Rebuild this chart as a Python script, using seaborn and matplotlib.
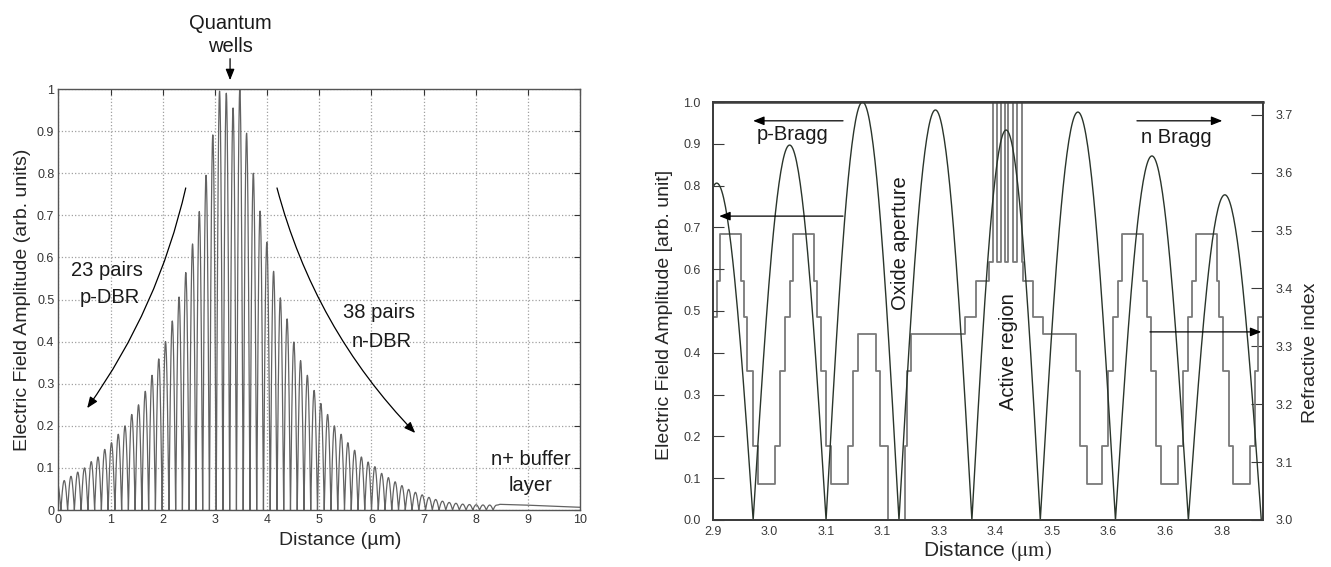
import numpy as np
import pandas as pd
import matplotlib
matplotlib.use("Agg")
import matplotlib.pyplot as plt
import seaborn as sns
from matplotlib.ticker import FixedLocator, FixedFormatter, MultipleLocator, FormatStrFormatter

# ---------------- Left panel: field amplitude through the whole stack ----------------
lobe_pitch = 0.1295        # µm per DBR pair (lambda / 2n)
first_lobe_x = -0.0195     # centre of the first (partial) lobe
p_dbr_peaks = [0.062, 0.07, 0.08, 0.09, 0.10, 0.115, 0.126, 0.144, 0.16, 0.18,
               0.20, 0.227, 0.25, 0.282, 0.32, 0.359, 0.40, 0.449, 0.506, 0.564,
               0.632, 0.709, 0.795, 0.891]
cavity_peaks = [0.995, 0.99, 0.955, 1.0]
n_dbr_peaks = [0.895, 0.80, 0.71, 0.636, 0.567, 0.504, 0.454, 0.399, 0.355, 0.32,
               0.284, 0.253, 0.227, 0.20, 0.18, 0.16, 0.142, 0.126, 0.114, 0.103,
               0.087, 0.077, 0.067, 0.058, 0.049, 0.042, 0.036, 0.030, 0.025, 0.021,
               0.018, 0.016, 0.014, 0.013, 0.0125, 0.012, 0.0118, 0.0115]
buffer_x = [8.463, 9.0, 9.5, 10.0]
buffer_y = [0.0135, 0.0115, 0.009, 0.0065]

# ---------------- Right panel: zoom around the cavity ----------------
arch_nodes = [2.842, 2.971, 3.100, 3.229, 3.358, 3.479, 3.612, 3.741, 3.870]
arch_peaks = [0.806, 0.897, 1.0, 0.981, 0.933, 0.976, 0.871, 0.778]

# refractive-index profile: layer start positions (µm) and index of each layer
index_edges = [2.900, 2.907, 2.912, 2.949, 2.954, 2.961, 2.970, 2.979, 3.009, 3.018,
               3.027, 3.036, 3.042, 3.079, 3.084, 3.091, 3.100, 3.109, 3.138, 3.147,
               3.156, 3.189, 3.195, 3.209, 3.239, 3.244, 3.251, 3.345, 3.366, 3.388,
               3.395, 3.402, 3.409, 3.416, 3.421, 3.430, 3.437, 3.446, 3.448, 3.466,
               3.483, 3.543, 3.549, 3.561, 3.589, 3.598, 3.607, 3.616, 3.624, 3.660,
               3.667, 3.674, 3.683, 3.692, 3.722, 3.731, 3.740, 3.747, 3.754, 3.791,
               3.796, 3.803, 3.812, 3.820, 3.850, 3.859, 3.865, 3.873]
index_levels = [3.351, 3.413, 3.494, 3.413, 3.351, 3.257, 3.127, 3.062, 3.127, 3.257,
                3.351, 3.413, 3.494, 3.413, 3.351, 3.257, 3.127, 3.062, 3.127, 3.257,
                3.321, 3.257, 3.127, 1.600, 3.127, 3.257, 3.321, 3.351, 3.413, 3.446,
                3.800, 3.446, 3.800, 3.446, 3.800, 3.446, 3.800, 3.446, 3.413, 3.351,
                3.321, 3.257, 3.127, 3.062, 3.127, 3.257, 3.351, 3.413, 3.494, 3.413,
                3.351, 3.257, 3.127, 3.062, 3.127, 3.257, 3.351, 3.413, 3.494, 3.413,
                3.351, 3.257, 3.127, 3.062, 3.127, 3.257, 3.351, 3.351]

dist_ticks = [2.9, 3.0, 3.1, 3.2, 3.3, 3.4, 3.5, 3.6, 3.7, 3.8]
dist_tick_labels = ["2.9", "3.0", "3.1", "3.1", "3.3", "3.4", "3.5", "3.6", "3.6", "3.8"]


def lobe_trace(peaks, centres, pitch, end_level):
    """Half-wave standing-wave lobes (|sin| shape) with nodes between peaks."""
    xs, ys = [], []
    for i, (p, c) in enumerate(zip(peaks, centres)):
        t = np.linspace(0.0, 1.0, 31)
        x = c - pitch / 2 + t * pitch
        y = p * np.abs(np.sin(np.pi * t))
        if i == len(peaks) - 1:
            right = t > 0.5
            y[right] = end_level + (p - end_level) * np.sin(np.pi * t[right])
        xs.append(x)
        ys.append(y)
    return np.concatenate(xs), np.concatenate(ys)


all_peaks = p_dbr_peaks + cavity_peaks + n_dbr_peaks
centres = [first_lobe_x + k * lobe_pitch for k in range(len(all_peaks))]
lx, ly = lobe_trace(all_peaks, centres, lobe_pitch, buffer_y[0])
left_df = pd.DataFrame({"x": np.concatenate([lx, buffer_x]),
                        "E": np.concatenate([ly, buffer_y])})

ax_parts, ay_parts = [], []
for a, b, p in zip(arch_nodes[:-1], arch_nodes[1:], arch_peaks):
    t = np.linspace(0.0, 1.0, 80)
    ax_parts.append(a + t * (b - a))
    ay_parts.append(p * np.sin(np.pi * t))
arch_df = pd.DataFrame({"x": np.concatenate(ax_parts), "E": np.concatenate(ay_parts)})
index_df = pd.DataFrame({"x": index_edges, "n": index_levels})

# ---------------- Figure ----------------
sns.set_style("white")
plt.rcParams["font.family"] = ["Liberation Sans", "DejaVu Sans"]

fig = plt.figure(figsize=(13.31, 5.67), dpi=100)
ax1 = fig.add_axes([0.04395, 0.1005, 0.3918, 0.7425])
ax2 = fig.add_axes([0.5357, 0.0829, 0.4132, 0.7372])
ax3 = ax2.twinx()

# ----- left panel -----
sns.lineplot(data=left_df, x="x", y="E", ax=ax1, color="#626262", lw=0.9,
             estimator=None, sort=False)
ax1.set_xlim(0, 10)
ax1.set_ylim(0, 1)
ax1.xaxis.set_major_locator(MultipleLocator(1))
ax1.yaxis.set_major_locator(MultipleLocator(0.1))
ax1.yaxis.set_major_formatter(FormatStrFormatter("%g"))
ax1.grid(True, linestyle=":", color="#a0a0a0", lw=0.9)
ax1.tick_params(direction="in", length=4, top=True, right=True, labelsize=9,
                colors="#333333", pad=3)
for s in ax1.spines.values():
    s.set_color("#555555")
    s.set_linewidth(1.0)
ax1.set_xlabel("Distance (µm)", fontsize=14)
ax1.set_ylabel("Electric Field Amplitude (arb. units)", fontsize=14)
ax1.xaxis.set_label_coords(0.54, -0.052)
ax1.yaxis.set_label_coords(-0.053, 0.5)

txt = dict(fontsize=14.5, color="#1a1a1a", ha="center", va="center")
ax1.text(3.29, 1.128, "Quantum\nwells", linespacing=1.3, clip_on=False, **txt)
arrow_kw = dict(arrowstyle="-|>,head_length=0.55,head_width=0.22", color="black",
                lw=0.9, mutation_scale=12, shrinkA=0, shrinkB=0)
ax1.annotate("", xy=(3.29, 1.021), xytext=(3.29, 1.072), arrowprops=arrow_kw,
             annotation_clip=False)
ax1.annotate("", xy=(0.55, 0.242), xytext=(2.44, 0.765),
             arrowprops=dict(connectionstyle="arc3,rad=-0.1", **arrow_kw))
ax1.annotate("", xy=(6.84, 0.183), xytext=(4.19, 0.765),
             arrowprops=dict(connectionstyle="arc3,rad=0.13", **arrow_kw))
ax1.text(0.93, 0.568, "23 pairs", **txt)
ax1.text(0.98, 0.505, "p-DBR", **txt)
ax1.text(6.15, 0.468, "38 pairs", **txt)
ax1.text(6.2, 0.40, "n-DBR", **txt)
ax1.text(9.06, 0.119, "n+ buffer", **txt)
ax1.text(9.06, 0.058, "layer", **txt)

# ----- right panel -----
sns.lineplot(data=index_df, x="x", y="n", ax=ax3, color="#7a7a7a", lw=1.3,
             estimator=None, sort=False, drawstyle="steps-post")
sns.lineplot(data=arch_df, x="x", y="E", ax=ax2, color="#2a352b", lw=1.0,
             estimator=None, sort=False)
ax2.set_zorder(ax3.get_zorder() + 1)
ax2.patch.set_visible(False)

ax2.set_xlim(2.9, 3.873)
ax2.set_ylim(0, 1.0)
ax3.set_ylim(3.0, 3.722)
ax2.xaxis.set_major_locator(FixedLocator(dist_ticks))
ax2.xaxis.set_major_formatter(FixedFormatter(dist_tick_labels))
ax2.yaxis.set_major_locator(MultipleLocator(0.1))
ax2.yaxis.set_major_formatter(FormatStrFormatter("%.1f"))
ax3.yaxis.set_major_locator(MultipleLocator(0.1))
ax3.yaxis.set_major_formatter(FormatStrFormatter("%.1f"))
ax2.tick_params(axis="x", direction="in", length=9, labelsize=9, colors="#3a3a3a", pad=4)
ax2.tick_params(axis="y", direction="in", length=8, labelsize=9, colors="#3a3a3a", pad=9)
ax3.tick_params(axis="y", direction="in", length=9, labelsize=9, colors="#3a3a3a", pad=9)
for a in (ax2, ax3):
    for s in a.spines.values():
        s.set_color("#3c3c3c")
        s.set_linewidth(1.3)
ax3.spines["top"].set_linewidth(1.8)

ax2.set_xlabel(r"Distance $(\mathrm{\mu m})$", fontsize=15, math_fontfamily="stix")
ax2.set_ylabel("Electric Field Amplitude [arb. unit]", fontsize=14)
ax3.set_ylabel("Refractive index", fontsize=14)
ax2.xaxis.set_label_coords(0.5, -0.046)
ax2.yaxis.set_label_coords(-0.073, 0.49)
ax3.yaxis.set_label_coords(1.071, 0.40)

ax2.text(3.04, 0.923, "p-Bragg", **txt)
ax2.text(3.719, 0.916, "n Bragg", **txt)
ax2.annotate("", xy=(2.971, 0.955), xytext=(3.130, 0.955), arrowprops=arrow_kw)
ax2.annotate("", xy=(2.911, 0.727), xytext=(3.130, 0.727), arrowprops=arrow_kw)
ax2.annotate("", xy=(3.801, 0.955), xytext=(3.650, 0.955), arrowprops=arrow_kw)
ax2.annotate("", xy=(3.870, 0.45), xytext=(3.673, 0.45), arrowprops=arrow_kw)
ax2.text(3.231, 0.662, "Oxide aperture", rotation=90, **txt)
ax2.text(3.422, 0.404, "Active region", rotation=90, **txt)

fig.savefig("out.png", dpi=100)
